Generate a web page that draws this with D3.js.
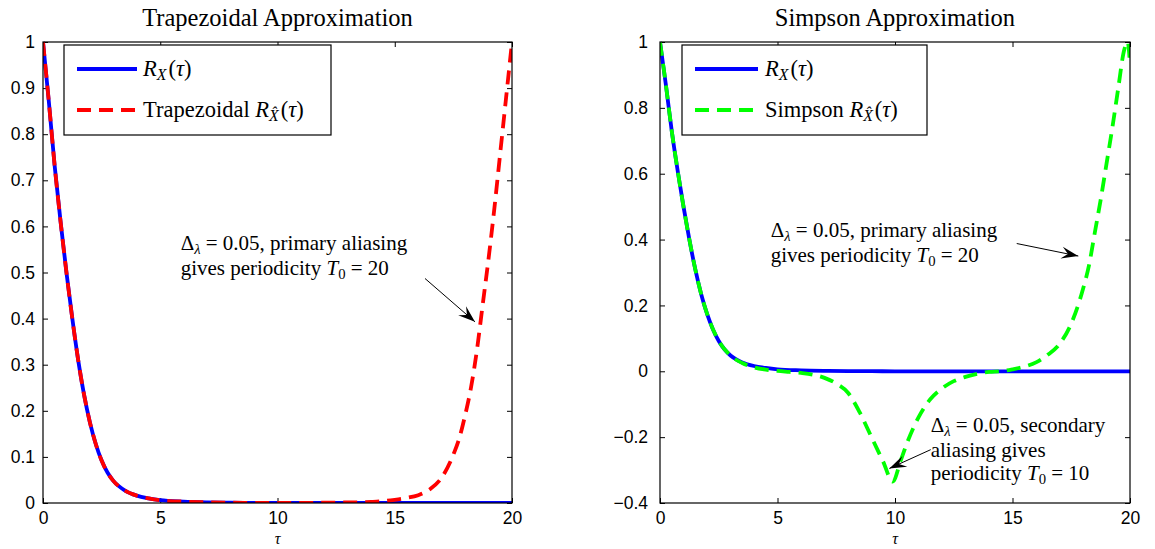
<!DOCTYPE html>
<html><head><meta charset="utf-8">
<script src="https://cdn.jsdelivr.net/npm/d3@7"></script>
<style>
body{margin:0;background:#fff}
text{font-family:"Liberation Serif","Times New Roman",serif;fill:#000}
.tick text{font-family:"Liberation Sans",Arial,sans-serif}
</style></head>
<body><svg id="c" width="1155" height="549"></svg>
<script>
// ---- data ----
const tauR = [0,0.25,0.5,0.75,1,1.25,1.5,1.75,2,2.25,2.5,2.75,3,3.5,4,4.5,5,6,7,8,9,10,12,14,16,18,20];
const valR = [1,0.87,0.73,0.61,0.5,0.4,0.31,0.235,0.175,0.128,0.092,0.066,0.048,0.027,0.016,0.01,0.006,0.003,0.0015,0.0007,0.0003,0,0,0,0,0,0];

const tauTrap = [0,0.25,0.5,0.75,1,1.25,1.5,1.75,2,2.25,2.5,2.75,3,3.5,4,4.5,5,6,7,8,9,10,11,12,13,14,14.5,15,15.5,16,16.5,17,17.5,17.75,18,18.25,18.5,18.75,19,19.25,19.5,19.75,20];
const valTrap = [1,0.87,0.73,0.61,0.5,0.4,0.31,0.235,0.175,0.128,0.092,0.066,0.048,0.027,0.016,0.01,0.006,0.003,0.0015,0.0007,0.0003,0.0002,0.0003,0.0006,0.0012,0.0025,0.004,0.007,0.011,0.017,0.03,0.055,0.105,0.14,0.19,0.25,0.33,0.43,0.53,0.64,0.76,0.88,1];

const tauSimp = [0,0.25,0.5,0.75,1,1.25,1.5,1.75,2,2.5,3,3.5,4,4.5,5,5.5,6,6.5,7,7.5,8,8.5,9,9.5,9.9,10.25,10.5,11,11.5,12,12.5,13,13.5,14,14.5,15,15.5,16,16.5,17,17.5,18,18.25,18.5,18.75,19,19.25,19.5,19.75,19.9,20];
const valSimp = [1,0.87,0.73,0.61,0.5,0.4,0.31,0.235,0.175,0.092,0.048,0.025,0.012,0.005,0.001,-0.002,-0.005,-0.01,-0.02,-0.037,-0.065,-0.125,-0.2,-0.275,-0.335,-0.27,-0.22,-0.14,-0.085,-0.052,-0.03,-0.017,-0.008,-0.002,0,0.006,0.014,0.027,0.05,0.083,0.145,0.25,0.32,0.42,0.52,0.63,0.74,0.86,0.975,1,0.93];

const xTicks = [0,5,10,15,20];
const yTicksLeft = [0,0.1,0.2,0.3,0.4,0.5,0.6,0.7,0.8,0.9,1];
const yTicksRight = [-0.4,-0.2,0,0.2,0.4,0.6,0.8,1];
const titles = ["Trapezoidal Approximation","Simpson Approximation"];
const approxNames = ["Trapezoidal","Simpson"];
const approxColors = ["#ff0000","#00ff00"];

const svg = d3.select("#c");
svg.append("rect").attr("width",1155).attr("height",549).attr("fill","#fff");

const defs = svg.append("defs");

function fmt(d){ const s = d3.format("")(d); return s.replace("-","\u2212"); }

function arrow(g, x1,y1,x2,y2){
  g.append("line").attr("x1",x1).attr("y1",y1).attr("x2",x2).attr("y2",y2)
    .attr("stroke","#000").attr("stroke-width",1);
  const a = Math.atan2(y2-y1,x2-x1)*180/Math.PI;
  const L=17, W=12;
  g.append("path").attr("d",`M0,0 L${-L},${-W/2} L${-0.62*L},0 L${-L},${W/2} Z`)
    .attr("fill","#000").attr("transform",`translate(${x2},${y2}) rotate(${a})`);
}

function mathLabel(t, parts){
  parts.forEach(p=>{
    const ts = t.append("tspan").text(p.t);
    if(p.i) ts.attr("font-style","italic");
    if(p.sub) ts.attr("baseline-shift","-28%").attr("font-size","70%");
    if(p.dx!==undefined) ts.attr("dx",p.dx);
  });
}

function panel(idx, left, right, yDomain, yTicks, tauA, valA){
  const top=42, bottom=503;
  const x = d3.scaleLinear().domain([0,20]).range([left,right]);
  const y = d3.scaleLinear().domain(yDomain).range([bottom,top]);
  const g = svg.append("g");

  const ax = [
    [d3.axisBottom(x).tickValues(xTicks).tickFormat(fmt), `translate(0,${bottom})`],
    [d3.axisTop(x).tickValues(xTicks).tickFormat(""), `translate(0,${top})`],
    [d3.axisLeft(y).tickValues(yTicks).tickFormat(fmt), `translate(${left},0)`],
    [d3.axisRight(y).tickValues(yTicks).tickFormat(""), `translate(${right},0)`]
  ];
  ax.forEach(([a,tr],k)=>{
    a.tickSizeInner(-5).tickSizeOuter(0).tickPadding(k===2?(idx===0?8:12):9);
    const gg = g.append("g").attr("transform",tr).call(a);
    gg.select(".domain").remove();
    gg.selectAll(".tick line").attr("stroke","#000").attr("stroke-width",1);
    gg.selectAll(".tick text").attr("font-size",17.5).attr("fill","#000");
  });

  const clipId = "clip"+idx;
  defs.append("clipPath").attr("id",clipId).append("rect")
    .attr("x",left).attr("y",top-3).attr("width",right-left).attr("height",bottom-top+3);

  const line = d3.line().x(d=>x(d[0])).y(d=>y(d[1])).curve(d3.curveMonotoneX);
  const cg = g.append("g").attr("clip-path",`url(#${clipId})`);
  cg.append("path").datum(tauR.map((t,i)=>[t,valR[i]])).attr("d",line)
    .attr("fill","none").attr("stroke","#0000ff").attr("stroke-width",3.8);
  cg.append("path").datum(tauA.map((t,i)=>[t,valA[i]])).attr("d",line)
    .attr("fill","none").attr("stroke",approxColors[idx]).attr("stroke-width",3.8)
    .attr("stroke-dasharray","14,8");

  g.append("rect").attr("x",left).attr("y",top).attr("width",right-left).attr("height",bottom-top)
    .attr("fill","none").attr("stroke","#000").attr("stroke-width",1.2);

  g.append("text").attr("x",(left+right)/2).attr("y",26).attr("text-anchor","middle")
    .attr("font-size",24.5).text(titles[idx]);
  g.append("text").attr("x",(left+right)/2).attr("y",544).attr("text-anchor","middle")
    .attr("font-size",16).attr("font-style","italic").text("\u03c4");

  return {g,x,y};
}

const P1 = panel(0, 43, 512, [0,1], yTicksLeft, tauTrap, valTrap);
const P2 = panel(1, 660, 1130, [-0.4,1], yTicksRight, tauSimp, valSimp);

function legend(P, bx, bw, lx1, lx2, tx, idx){
  const g = P.g;
  g.append("rect").attr("x",bx).attr("y",45).attr("width",bw).attr("height",90)
    .attr("fill","#fff").attr("stroke","#000").attr("stroke-width",1.2);
  g.append("line").attr("x1",lx1).attr("x2",lx2).attr("y1",69).attr("y2",69)
    .attr("stroke","#0000ff").attr("stroke-width",3.8);
  g.append("line").attr("x1",lx1).attr("x2",lx2).attr("y1",110).attr("y2",110)
    .attr("stroke",approxColors[idx]).attr("stroke-width",3.8).attr("stroke-dasharray","14,8");
  const t1 = g.append("text").attr("x",tx).attr("y",76).attr("font-size",22.5);
  mathLabel(t1,[{t:"R",i:1},{t:"X",i:1,sub:1},{t:"(",dx:2},{t:"\u03c4",i:1},{t:")"}]);
  const t2 = g.append("text").attr("x",tx).attr("y",117).attr("font-size",22.5);
  mathLabel(t2,[{t:approxNames[idx]+" "},{t:"R",i:1},{t:"X\u0302",i:1,sub:1},{t:"(",dx:2},{t:"\u03c4",i:1},{t:")"}]);
}
legend(P1, 64, 267, 77, 137, 143, 0);
legend(P2, 682, 245, 695, 758, 765, 1);

function dlText(g, px, py, rest, fs){
  const t = g.append("text").attr("x",px).attr("y",py).attr("font-size",fs);
  mathLabel(t,[{t:"\u0394"},{t:"\u03bb",i:1,sub:1},{t:" = 0.05, "+rest}]);
}
function tLine(g, px, py, pre, val, fs){
  const t = g.append("text").attr("x",px).attr("y",py).attr("font-size",fs);
  mathLabel(t,[{t:pre},{t:"T",i:1},{t:"0",sub:1},{t:" = "+val}]);
}
const FS = 21;
{
  const {g,x,y} = P1;
  dlText(g, x(5.87), y(0.549), "primary aliasing", FS);
  tLine(g, x(5.87), y(0.495), "gives periodicity ", "20", FS);
  arrow(g, x(16.29), y(0.487), x(18.42), y(0.393));
}
{
  const {g,x,y} = P2;
  dlText(g, x(4.71), y(0.408), "primary aliasing", FS);
  tLine(g, x(4.71), y(0.332), "gives periodicity ", "20", FS);
  arrow(g, x(15.18), y(0.388), x(17.8), y(0.35));
  dlText(g, x(11.52), y(-0.184), "secondary", FS);
  g.append("text").attr("x",x(11.52)).attr("y",y(-0.26)).attr("font-size",FS).text("aliasing gives");
  tLine(g, x(11.52), y(-0.331), "periodicity ", "10", FS);
  arrow(g, x(11.52), y(-0.238), x(9.76), y(-0.295));
}
</script></body></html>
